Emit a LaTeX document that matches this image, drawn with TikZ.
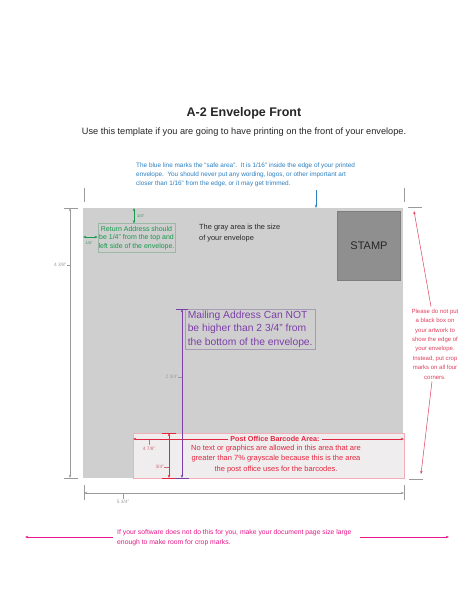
\documentclass[tikz,border=0pt]{standalone}
\usepackage{fontspec}
\setmainfont{Liberation Sans}
\usetikzlibrary{arrows.meta}
\definecolor{envgray}{HTML}{D0CFCF}
\definecolor{stampgray}{HTML}{8F8F8F}
\definecolor{stampedge}{HTML}{7E7E7E}
\definecolor{safeblue}{HTML}{2A7FC1}
\definecolor{retgreen}{HTML}{159A4C}
\definecolor{retedge}{HTML}{9DB8A6}
\definecolor{mailpurple}{HTML}{7B3FA8}
\definecolor{mailedge}{HTML}{A79DB3}
\definecolor{barred}{HTML}{E3263F}
\definecolor{barfill}{HTML}{F0EDEE}
\definecolor{baredge}{HTML}{F2AFB8}
\definecolor{barlabel}{HTML}{D26A78}
\definecolor{notered}{HTML}{E0405E}
\definecolor{notepink}{HTML}{E8168A}
\definecolor{dimgray}{HTML}{9A9A9A}
\definecolor{textdark}{HTML}{262626}
\tikzset{
  tip/.style={-{Stealth[length=3.2pt,width=2.4pt]}},
  tips/.style={{Stealth[length=3.2pt,width=2.4pt]}-{Stealth[length=3.2pt,width=2.4pt]}},
  dimline/.style={draw=dimgray, line width=0.6pt},
  cropmark/.style={draw=dimgray, line width=0.8pt},
  dimlabel/.style={text=dimgray, font=\fontsize{4.8}{5}\selectfont, inner sep=0.5pt},
  txt/.style={inner sep=0pt},
}
\begin{document}
\begin{tikzpicture}[x=1pt,y=-1pt]
\useasboundingbox[fill=white] (0,0) rectangle (474,613);

% titles
\node[txt, font=\bfseries\fontsize{12.5}{14}\selectfont, text=textdark] (title) at (244,113) {A-2 Envelope Front};
\node[txt, font=\fontsize{9.2}{10}\selectfont, text=textdark] (subtitle) at (244,132) {Use this template if you are going to have printing on the front of your envelope.};

% blue note
\node[txt, anchor=west, align=left, text=safeblue, font=\fontsize{6.4}{9}\selectfont] (bluenote) at (136,175)
 {The blue line marks the ``safe area''.\ \ It is 1/16'' inside the edge of your printed\\
  envelope.\ \ You should never put any wording, logos, or other important art\\
  closer than 1/16'' from the edge, or it may get trimmed.};

% envelope
\coordinate (eTL) at (83,208);
\coordinate (eBR) at (403,478);
\path[fill=envgray] (eTL) rectangle (eBR);
\coordinate (bluetop) at (316,190);
\coordinate (bluebot) at (316,208);
\draw[safeblue, line width=0.6pt, tip] (bluetop) -- (bluebot);

% crop marks
\coordinate (cTLa) at (84,188); \coordinate (cTLb) at (84,202);
\coordinate (cTRa) at (404,188); \coordinate (cTRb) at (404,202);
\coordinate (cBLa) at (84,485); \coordinate (cBLb) at (84,500);
\coordinate (cBRa) at (404,485); \coordinate (cBRb) at (404,500);
\draw[cropmark] (cTLa) -- (cTLb);
\draw[cropmark] (cTRa) -- (cTRb);
\draw[cropmark] (cBLa) -- (cBLb);
\draw[cropmark] (cBRa) -- (cBRb);
\coordinate (hLTa) at (64,208); \coordinate (hLTb) at (78,208);
\coordinate (hLBa) at (64,478); \coordinate (hLBb) at (78,478);
\coordinate (hRTa) at (408,207); \coordinate (hRTb) at (422,207);
\coordinate (hRBa) at (409,479); \coordinate (hRBb) at (423,479);
\draw[cropmark] (hLTa) -- (hLTb);
\draw[cropmark] (hLBa) -- (hLBb);
\draw[cropmark] (hRTa) -- (hRTb);
\draw[cropmark] (hRBa) -- (hRBb);

% overall dimensions
\coordinate (dLt) at (70,208); \coordinate (dLb) at (70,478);
\draw[dimline, tips] (dLt) -- (dLb);
\node[dimlabel, anchor=east] (hlab) at (67,265) {4 3/8''};
\draw[dimline, line width=0.4pt] (hlab.east) -- (70,265);
\coordinate (dBl) at (84,493); \coordinate (dBr) at (404,493);
\draw[dimline, tips] (dBl) -- (dBr);
\node[dimlabel, anchor=north] (wlab) at (123,499) {5 3/4''};
\draw[dimline, line width=0.4pt] (123,494) -- (wlab.north);

% gray text
\node[txt, anchor=west, align=left, text=textdark, font=\fontsize{7.4}{11}\selectfont] (graytext) at (199,233.5)
 {The gray area is the size\\of your envelope};

% stamp
\node[draw=stampedge, fill=stampgray, line width=0.8pt, minimum width=63, minimum height=69, inner sep=0,
      font=\fontsize{11}{12}\selectfont, text=textdark] (stamp) at (369,246) {STAMP};

% return address
\node[draw=retedge, line width=0.5pt, inner xsep=0.6pt, inner ysep=2.2pt, align=center, text=retgreen,
      font=\fontsize{7}{8.8}\selectfont] (retbox) at (136.5,238)
 {Return Address should\\be 1/4'' from the top and\\left side of the envelope.};
\coordinate (gvt) at (134,208);
\coordinate (gvb) at (retbox.north -| gvt);
\draw[retgreen, line width=0.7pt, tips] (gvt) -- (gvb);
\node[txt, anchor=west, text=retgreen!70!gray, font=\fontsize{4}{4}\selectfont] (g1) at (137,216) {1/4''};
\coordinate (ghl) at (83,237);
\coordinate (ghr) at (retbox.west |- ghl);
\draw[retgreen, line width=0.7pt, tips] (ghl) -- (ghr);
\node[txt, text=retgreen!60!gray, font=\fontsize{4}{4}\selectfont] (g2) at (89,243) {1/4''};

% barcode area
\coordinate (bTL) at (133,433);
\coordinate (bBR) at (404,478);
\path[fill=barfill, draw=baredge, line width=0.5pt] (bTL) rectangle (bBR);
\node[txt, fill=barfill, inner xsep=2pt, text=barred, font=\bfseries\fontsize{7.2}{8}\selectfont] (bartitle) at (275,439) {Post Office Barcode Area:};
\coordinate (barl) at (133,439);
\coordinate (barr) at (404,439);
\draw[barred, line width=0.6pt, tip] (bartitle.west) -- (barl);
\draw[barred, line width=0.6pt, tip] (bartitle.east) -- (barr);
\node[txt, align=center, text=barred, font=\fontsize{7.5}{10.5}\selectfont] (bartext) at (276,459)
 {No text or graphics are allowed in this area that are\\greater than 7\% grayscale because this is the area\\the post office uses for the barcodes.};
\coordinate (rvt) at (169,433);
\coordinate (rvb) at (169,478);
\draw[barred, line width=0.7pt, tips] (rvt) -- (rvb);
\draw[barred, line width=0.7pt] (162,433) -- (176,433);
\draw[barred, line width=0.7pt] (162,478) -- (176,478);
\node[txt, anchor=east, text=barlabel, font=\fontsize{4.8}{5}\selectfont] (lab34) at (164,467) {3/4''};
\draw[barlabel, line width=0.4pt] (lab34.east) -- (rvt |- lab34.east);
\node[txt, text=barlabel, font=\fontsize{4.8}{5}\selectfont] (lab478) at (149,449) {4 7/8''};
\draw[barlabel, line width=0.4pt] (149,440) -- (149,445);

% mailing address
\node[draw=mailedge, line width=0.5pt, anchor=north west, inner xsep=2.5pt, inner ysep=1.5pt, align=left, text=mailpurple,
      font=\fontsize{10.3}{13.5}\selectfont] (mailbox) at (185,309)
 {Mailing Address Can NOT\\be higher than 2 3/4'' from\\the bottom of the envelope.};
\coordinate (pvt) at (182,309);
\coordinate (pvb) at (182,478);
\draw[mailpurple, line width=0.7pt, tips] (pvt) -- (pvb);
\draw[mailpurple, line width=0.7pt] (176,309) -- (188,309);
\draw[mailpurple, line width=0.7pt] (175,478) -- (189,478);
\node[txt, anchor=east, text=dimgray, font=\fontsize{4.8}{5}\selectfont] (lab234) at (178,377) {2 3/4''};
\draw[dimgray, line width=0.4pt] (lab234.east) -- (pvt |- lab234.east);

% right note
\node[txt, align=center, text=notered, font=\fontsize{6}{9.4}\selectfont] (rnote) at (435,344)
 {Please do not put\\a black box on\\your artwork to\\show the edge of\\your envelope.\\Instead, put crop\\marks on all four\\corners.};
\coordinate (rtop) at (414,211);
\coordinate (rbot) at (421,474);
\draw[notered, line width=0.5pt, tip] (rnote.north) ++(-4,-2) coordinate (rns) -- (rtop);
\draw[notered, line width=0.5pt, tip] (rnote.south) ++(-3,2) coordinate (rne) -- (rbot);

% bottom note
\node[txt, anchor=west, align=left, text=notepink, font=\fontsize{6.8}{10}\selectfont] (pnote) at (117,538)
 {If your software does not do this for you, make your document page size large\\enough to make room for crop marks.};
\coordinate (pl) at (25,537);
\coordinate (pr) at (449,537);
\draw[notepink, line width=0.6pt, tip] (113,537) -- (pl);
\draw[notepink, line width=0.6pt, tip] (360,537) -- (pr);
\end{tikzpicture}
\end{document}
